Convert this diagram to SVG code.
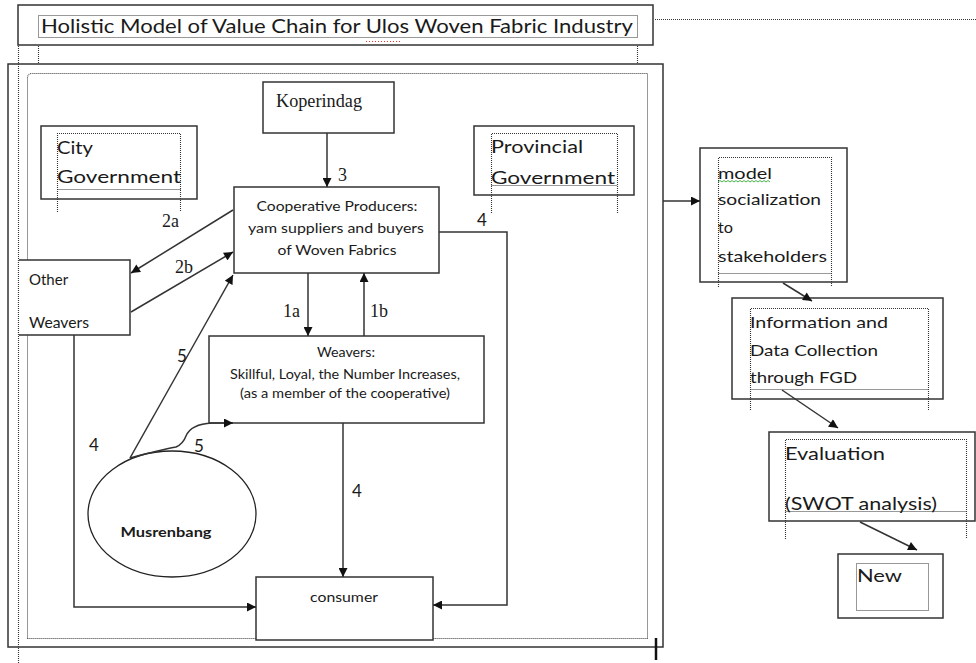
<svg xmlns="http://www.w3.org/2000/svg" width="976" height="663" viewBox="0 0 976 663">
<defs>
<style>
.box{fill:#fff;stroke:#333;stroke-width:1.5}
.frame{fill:none;stroke:#333;stroke-width:1.5}
.dot{fill:none;stroke:#333;stroke-width:1.1;stroke-dasharray:1 1}
.ln{fill:none;stroke:#333;stroke-width:1.5}
.arr{marker-end:url(#ah)}
.t{font-family:Lato,"Liberation Sans",sans-serif;fill:#1a1a1a}
.s{font-family:"Liberation Serif",serif;fill:#1a1a1a}
.lbl{font-family:Lato,"Liberation Sans",sans-serif;fill:#1a1a1a;font-size:17px}
.sl{font-family:"Liberation Serif",serif;fill:#1a1a1a;font-size:18px}
</style>
<marker id="ah" viewBox="0 0 10 10" refX="10" refY="5" markerWidth="10" markerHeight="9" markerUnits="userSpaceOnUse" orient="auto">
<path d="M0,0 L10,5 L0,10 z" fill="#111"/>
</marker>
</defs>
<rect width="976" height="663" fill="#fff"/>

<g id="frames">
<path class="dot" d="M18.5,46 V663"/>
<path class="dot" d="M38.5,38 V63"/>
<path class="dot" d="M637.5,38 V63"/>
<path class="dot" d="M655,19.5 H976"/>
<rect class="frame" x="8" y="64" width="655" height="583"/>
<path class="dot" d="M27.5,638.5 V78 Q27.5,73.5 32,73.5 H647.5 V638.5 Z"/>
<path d="M656,638 V660" stroke="#111" stroke-width="2.5"/>
</g>

<g id="title">
<rect class="box" x="18" y="5" width="635" height="40"/>
<rect class="dot" x="38.5" y="15.5" width="599" height="22"/>
<text class="t" x="41" y="33" font-size="19" textLength="592" lengthAdjust="spacingAndGlyphs">Holistic Model of Value Chain for Ulos Woven Fabric Industry</text>
<path d="M366,41.5 H400" stroke="#e33" stroke-width="1" stroke-dasharray="1 2"/>
</g>

<g id="city-government">
<rect class="box" x="41" y="126" width="156" height="73"/>
<path class="dot" d="M57.5,212 V133.5 H180.5 V212 M57.5,189.5 H180.5"/>
<text class="t" x="57" y="154" font-size="17" textLength="36" lengthAdjust="spacingAndGlyphs">City</text>
<text class="t" x="57" y="183" font-size="17" textLength="124" lengthAdjust="spacingAndGlyphs">Government</text>
</g>

<g id="provincial-government">
<rect class="box" x="474" y="126" width="160" height="69"/>
<path class="dot" d="M491.5,213 V133.5 H617.5 V213 M491.5,185.5 H617.5"/>
<text class="t" x="491" y="153" font-size="17" textLength="92" lengthAdjust="spacingAndGlyphs">Provincial</text>
<text class="t" x="491" y="184" font-size="17" textLength="124" lengthAdjust="spacingAndGlyphs">Government</text>
</g>

<g id="koperindag">
<rect class="box" x="263" y="82" width="131" height="51"/>
<text class="s" x="276" y="107" font-size="18" textLength="86" lengthAdjust="spacingAndGlyphs">Koperindag</text>
</g>

<g id="cooperative-producers">
<rect class="box" x="234" y="187" width="205" height="86"/>
<text class="t" x="337" y="211" font-size="14" text-anchor="middle" textLength="161" lengthAdjust="spacingAndGlyphs">Cooperative Producers:</text>
<text class="t" x="336" y="233" font-size="14" text-anchor="middle" textLength="176" lengthAdjust="spacingAndGlyphs">yam suppliers and buyers</text>
<text class="t" x="337" y="255" font-size="14" text-anchor="middle" textLength="119" lengthAdjust="spacingAndGlyphs">of Woven Fabrics</text>
</g>

<g id="other-weavers">
<rect x="19" y="260" width="111" height="75" fill="#fff"/>
<path class="ln" d="M19,260 H130 V335 H19"/>
<path class="dot" d="M18.5,260 V335"/>
<text class="t" x="29" y="285" font-size="15">Other</text>
<text class="t" x="29" y="328" font-size="15" textLength="60" lengthAdjust="spacingAndGlyphs">Weavers</text>
</g>

<g id="weavers">
<rect class="box" x="209" y="336" width="275" height="87"/>
<text class="t" x="346" y="357" font-size="13" text-anchor="middle" textLength="58" lengthAdjust="spacingAndGlyphs">Weavers:</text>
<text class="t" x="345" y="379" font-size="13" text-anchor="middle" textLength="230" lengthAdjust="spacingAndGlyphs">Skillful, Loyal, the Number Increases,</text>
<text class="t" x="345" y="398" font-size="13" text-anchor="middle" textLength="210" lengthAdjust="spacingAndGlyphs">(as a member of the cooperative)</text>
</g>

<g id="musrenbang">
<ellipse cx="172" cy="514" rx="84" ry="63" fill="#fff" stroke="#222" stroke-width="1.3"/>
<text class="t" x="166" y="537" font-size="14" font-weight="bold" text-anchor="middle" textLength="91" lengthAdjust="spacingAndGlyphs">Musrenbang</text>
</g>

<g id="consumer">
<rect class="box" x="256" y="577" width="177" height="63"/>
<text class="t" x="344" y="602" font-size="13" text-anchor="middle" textLength="68" lengthAdjust="spacingAndGlyphs">consumer</text>
</g>

<g id="model-socialization">
<rect class="box" x="700" y="148" width="147" height="134"/>
<path class="dot" d="M718.5,287 V157.5 H831.5 V287 M718.5,273.5 H831.5"/>
<text class="t" x="718" y="179" font-size="16" textLength="54" lengthAdjust="spacingAndGlyphs">model</text>
<path d="M718,182 l2,-1.5 l2,1.5 l2,-1.5 l2,1.5 l2,-1.5 l2,1.5 l2,-1.5 l2,1.5 l2,-1.5 l2,1.5 l2,-1.5 l2,1.5 l2,-1.5 l2,1.5 l2,-1.5 l2,1.5 l2,-1.5 l2,1.5 l2,-1.5 l2,1.5 l2,-1.5 l2,1.5 l2,-1.5 l2,1.5 l2,-1.5 l2,1.5" fill="none" stroke="#3a3" stroke-width="0.9"/>
<text class="t" x="718" y="205" font-size="16" textLength="103" lengthAdjust="spacingAndGlyphs">socialization</text>
<text class="t" x="718" y="233" font-size="16" textLength="15" lengthAdjust="spacingAndGlyphs">to</text>
<text class="t" x="718" y="262" font-size="16" textLength="109" lengthAdjust="spacingAndGlyphs">stakeholders</text>
</g>

<g id="information-data-collection">
<rect class="box" x="732" y="298" width="211" height="101"/>
<path class="dot" d="M750.5,410 V308.5 H928.5 V410 M750.5,389.5 H928.5"/>
<text class="t" x="750" y="328" font-size="16" textLength="138" lengthAdjust="spacingAndGlyphs">Information and</text>
<text class="t" x="750" y="356" font-size="16" textLength="128" lengthAdjust="spacingAndGlyphs">Data Collection</text>
<text class="t" x="750" y="383" font-size="16" textLength="107" lengthAdjust="spacingAndGlyphs">through FGD</text>
</g>

<g id="evaluation">
<rect class="box" x="769" y="432" width="206" height="89"/>
<path class="dot" d="M785.5,539 V439.5 H966.5 V539 M785.5,511.5 H966.5"/>
<text class="t" x="785" y="460" font-size="17" textLength="100" lengthAdjust="spacingAndGlyphs">Evaluation</text>
<text class="t" x="785" y="510" font-size="17" textLength="152" lengthAdjust="spacingAndGlyphs">(SWOT analysis)</text>
</g>

<g id="new">
<rect class="box" x="838" y="554" width="105" height="64"/>
<rect class="dot" x="856.5" y="563.5" width="72" height="47"/>
<text class="t" x="857" y="582" font-size="17" textLength="45" lengthAdjust="spacingAndGlyphs">New</text>
</g>

<g id="connectors">
<path class="ln arr" d="M327,133 V187"/>
<path class="ln arr" d="M233,210 L131,273"/>
<path class="ln arr" d="M131,312 L233,252"/>
<path class="ln arr" d="M308,273 V336"/>
<path class="ln arr" d="M364,336 V273"/>
<path class="ln arr" d="M130,458 L233,275"/>
<path class="ln arr" d="M130,458 Q160,450 176,447 Q183,444 186,436 Q191,424 212,423 L233,423"/>
<path class="ln arr" d="M439,232 H507 V605 H433"/>
<path class="ln arr" d="M343,423 V577"/>
<path class="ln arr" d="M74,335 V607 H256"/>
<path class="ln arr" d="M663,201 H700"/>
<path class="ln arr" d="M783,283 L812,301"/>
<path class="ln arr" d="M782,390 L838,428"/>
<path class="ln arr" d="M860,522 L917,550"/>
<text class="sl" x="338" y="181">3</text>
<text class="sl" x="162" y="227">2a</text>
<text class="sl" x="175" y="273">2b</text>
<text class="sl" x="283" y="317">1a</text>
<text class="sl" x="370" y="317">1b</text>
<text class="lbl" x="477" y="226">4</text>
<text class="lbl" x="89" y="451">4</text>
<text class="lbl" x="352" y="497">4</text>
<text class="lbl" x="177" y="362">5</text>
<text class="lbl" x="194" y="452">5</text>
</g>
</svg>
